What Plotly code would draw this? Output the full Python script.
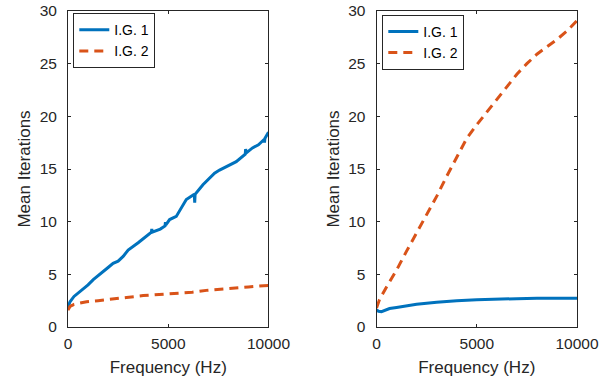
import plotly.graph_objects as go
from plotly.subplots import make_subplots

# ---------------- data ----------------
left_blue_freq = [0, 100, 300, 600, 1000, 1260, 1500, 1760, 2000, 2250, 2500, 2750, 3000, 3500,
                  4000, 4160, 4180, 4200, 4600, 4840, 4860, 4880, 5070, 5400, 5900, 6300, 6320,
                  6340, 6730, 7310, 7560, 7980, 8390, 8840, 8860, 8880, 9200, 9500, 9780, 9800,
                  9820, 10000]
left_blue_vals = [1.9, 2.4, 2.9, 3.35, 4.0, 4.5, 4.85, 5.3, 5.65, 6.05, 6.25, 6.7, 7.3, 8.0,
                  8.7, 9.0, 9.3, 9.0, 9.3, 9.6, 9.95, 9.7, 10.2, 10.5, 12.1, 12.6, 11.8,
                  12.6, 13.5, 14.6, 14.9, 15.3, 15.7, 16.4, 16.9, 16.5, 17.0, 17.3, 17.8, 17.5,
                  17.9, 18.5]

left_orange_freq = [0, 100, 300, 600, 930, 1500, 2090, 2920, 3750, 4500, 5400, 6200, 7000,
                    7500, 8000, 9000, 10000]
left_orange_vals = [1.6, 1.95, 2.15, 2.3, 2.4, 2.5, 2.6, 2.8, 2.98, 3.1, 3.2, 3.3, 3.5,
                    3.6, 3.65, 3.8, 3.95]

right_blue_freq = [0, 100, 250, 400, 650, 1000, 1500, 2000, 3000, 3650, 4000, 5000, 5550,
                   6000, 7000, 8000, 9000, 10000]
right_blue_vals = [1.6, 1.5, 1.45, 1.55, 1.75, 1.85, 2.0, 2.15, 2.35, 2.45, 2.5, 2.58, 2.62,
                   2.65, 2.69, 2.72, 2.73, 2.74]

right_orange_freq = [0, 150, 500, 1000, 1500, 2000, 2500, 3000, 3500, 4000, 4500, 5000, 5500,
                     6000, 6500, 7000, 7500, 8000, 8500, 9000, 9500, 10000]
right_orange_vals = [1.8, 2.6, 3.8, 5.4, 7.2, 8.9, 10.6, 12.4, 14.3, 16.1, 17.9, 19.2, 20.4,
                     21.6, 22.8, 24.0, 25.0, 25.9, 26.6, 27.3, 28.1, 29.1]

series_names = ["I.G. 1", "I.G. 2"]
x_ticks = [0, 5000, 10000]
x_tick_labels = ["0", "5000", "10000"]
y_ticks = [0, 5, 10, 15, 20, 25, 30]

# ---------------- style ----------------
BLUE = "#0072BD"
ORANGE = "#D95319"
AX = "#262626"
FONT = "Liberation Sans, Arial, Helvetica, sans-serif"

fig = make_subplots(rows=1, cols=2, horizontal_spacing=0.2122)

def add_pair(bx, by, ox, oy, col, legend):
    fig.add_trace(go.Scatter(x=bx, y=by, mode="lines", name=series_names[0],
                             line=dict(color=BLUE, width=3), legend=legend),
                  row=1, col=col)
    fig.add_trace(go.Scatter(x=ox, y=oy, mode="lines", name=series_names[1],
                             line=dict(color=ORANGE, width=3, dash="9px,6px"), legend=legend),
                  row=1, col=col)

add_pair(left_blue_freq, left_blue_vals, left_orange_freq, left_orange_vals, 1, "legend")
add_pair(right_blue_freq, right_blue_vals, right_orange_freq, right_orange_vals, 2, "legend2")

axis_common = dict(showline=True, linecolor=AX, linewidth=1, mirror="ticks",
                   ticks="inside", ticklen=3, tickcolor=AX, showgrid=False, zeroline=False,
                   tickfont=dict(family=FONT, size=15.5, color=AX))

for c in (1, 2):
    fig.update_xaxes(range=[0, 10000], tickvals=x_ticks, ticktext=x_tick_labels,
                     ticklabelstandoff=2,
                     title=dict(text="Frequency (Hz)", font=dict(family=FONT, size=17, color=AX),
                                standoff=10),
                     row=1, col=c, **axis_common)
    fig.update_yaxes(range=[0, 30], tickvals=y_ticks, ticklabelstandoff=7,
                     title=dict(text="Mean Iterations", font=dict(family=FONT, size=17, color=AX),
                                standoff=4),
                     row=1, col=c, **axis_common)

legend_common = dict(xanchor="left", yanchor="top",
                     bgcolor="white", bordercolor=AX, borderwidth=1,
                     font=dict(family=FONT, size=14, color="#000000"),
                     tracegroupgap=0, itemwidth=30)

fig.update_layout(
    width=611, height=383,
    margin=dict(l=68, r=34, t=11, b=56, autoexpand=False),
    paper_bgcolor="white", plot_bgcolor="white",
    font=dict(family=FONT, color=AX),
    legend=dict(x=0.0104, y=0.993, **legend_common),
    legend2=dict(x=0.6175, y=0.988, **legend_common),
)

fig.write_html("out.html", config={"displayModeBar": False},
               post_script="document.body.style.margin='0';document.body.style.padding='0';")
